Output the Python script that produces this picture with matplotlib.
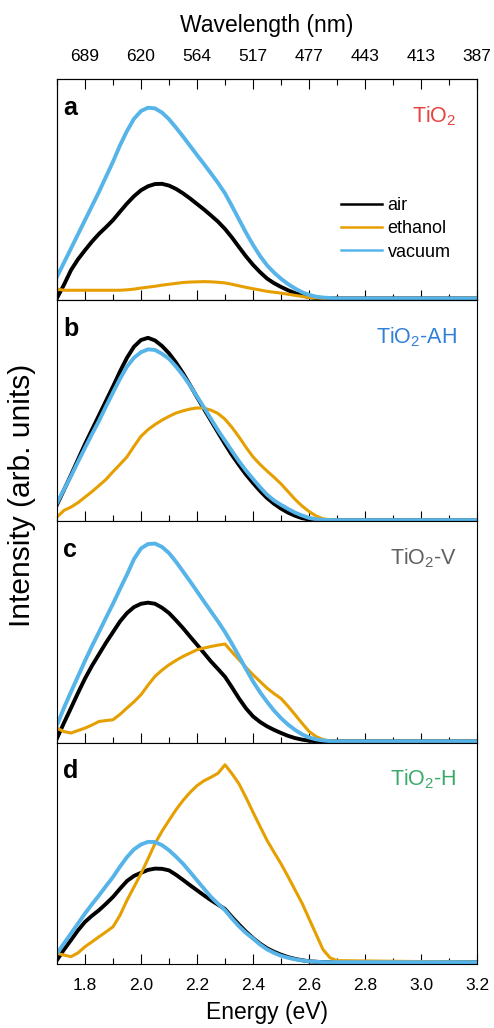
import matplotlib
matplotlib.use("Agg")
import matplotlib.pyplot as plt
from matplotlib.ticker import MultipleLocator

plt.rcParams["font.family"] = ["Liberation Sans", "DejaVu Sans"]
plt.rcParams["mathtext.default"] = "regular"

energy = [1.700, 1.725, 1.750, 1.775, 1.800, 1.825, 1.850, 1.875, 1.900, 1.925,
          1.950, 1.975, 2.000, 2.025, 2.050, 2.075, 2.100, 2.125, 2.150, 2.175,
          2.200, 2.225, 2.250, 2.275, 2.300, 2.325, 2.350, 2.375, 2.400, 2.425,
          2.450, 2.475, 2.500, 2.525, 2.550, 2.575, 2.600, 2.625, 2.650, 2.675,
          2.700, 3.200]

# panel a: TiO2
air_a = [.010, .070, .136, .185, .226, .265, .300, .330, .362, .400,
         .437, .470, .497, .515, .525, .526, .518, .503, .483, .460,
         .435, .410, .383, .355, .322, .283, .240, .198, .160, .127,
         .098, .077, .060, .045, .032, .022, .014, .010, .008, .008,
         .008, .008]
ethanol_a = [.050, .045, .045, .045, .045, .045, .045, .045, .045, .045,
             .047, .050, .055, .059, .063, .068, .072, .076, .080, .082,
             .083, .084, .083, .081, .078, .072, .065, .058, .052, .046,
             .040, .036, .032, .027, .022, .017, .012, .010, .008, .008,
             .008, .008]
vacuum_a = [.106, .170, .234, .298, .362, .426, .490, .558, .626, .700,
            .765, .820, .855, .870, .867, .848, .818, .780, .740, .698,
            .656, .615, .573, .530, .483, .425, .365, .305, .250, .200,
            .158, .125, .097, .073, .053, .036, .024, .016, .012, .010,
            .008, .008]

# panel b: TiO2-AH
air_b = [.076, .143, .210, .280, .350, .415, .480, .545, .610, .678,
         .740, .790, .820, .830, .818, .793, .760, .718, .670, .617,
         .562, .508, .455, .402, .350, .300, .255, .212, .174, .138,
         .106, .080, .058, .040, .026, .015, .009, .006, .006, .006,
         .006, .006]
ethanol_b = [.020, .050, .065, .085, .110, .135, .162, .190, .225, .258,
             .292, .340, .385, .415, .438, .458, .475, .490, .500, .508,
             .513, .512, .503, .488, .462, .425, .382, .335, .292, .258,
             .228, .200, .170, .135, .100, .070, .045, .025, .012, .008,
             .006, .006]
vacuum_b = [.083, .145, .205, .270, .333, .395, .455, .520, .583, .645,
            .700, .740, .765, .778, .775, .758, .735, .700, .660, .615,
            .565, .515, .463, .412, .365, .318, .272, .230, .192, .155,
            .121, .095, .075, .057, .040, .027, .016, .010, .007, .006,
            .006, .006]

# panel c: TiO2-V
air_c = [.020, .090, .157, .225, .290, .348, .400, .452, .500, .548,
         .586, .613, .628, .633, .628, .610, .586, .553, .518, .480,
         .443, .405, .367, .333, .298, .250, .200, .155, .119, .094,
         .074, .058, .044, .031, .021, .014, .009, .007, .006, .006,
         .006, .006]
ethanol_c = [.066, .050, .044, .055, .066, .080, .096, .100, .104, .128,
             .157, .185, .217, .260, .300, .328, .352, .372, .390, .405,
             .420, .428, .435, .441, .446, .410, .375, .340, .307, .277,
             .247, .222, .200, .165, .127, .088, .051, .028, .014, .008,
             .006, .006]
vacuum_c = [.080, .158, .230, .300, .370, .437, .500, .565, .628, .695,
            .760, .830, .878, .898, .900, .885, .857, .818, .774, .730,
            .684, .638, .593, .548, .500, .447, .390, .333, .277, .228,
            .185, .145, .111, .082, .058, .038, .024, .015, .010, .007,
            .006, .006]

# panel d: TiO2-H
air_d = [.018, .065, .108, .152, .190, .218, .243, .272, .303, .340,
         .375, .398, .412, .425, .431, .430, .423, .403, .380, .356,
         .333, .310, .288, .268, .248, .212, .178, .146, .117, .092,
         .071, .055, .042, .031, .023, .017, .012, .010, .008, .008,
         .008, .008]
ethanol_d = [.048, .040, .033, .050, .078, .100, .123, .145, .168, .220,
             .288, .348, .408, .475, .544, .600, .649, .697, .739, .775,
             .806, .828, .844, .862, .900, .860, .814, .752, .686, .622,
             .559, .505, .453, .395, .335, .275, .205, .135, .065, .028,
             .015, .008]
vacuum_d = [.048, .093, .138, .183, .228, .270, .310, .352, .393, .440,
            .483, .518, .540, .552, .551, .537, .514, .485, .453, .416,
            .378, .340, .303, .272, .243, .205, .170, .140, .115, .088,
            .066, .050, .037, .028, .021, .016, .012, .010, .008, .008,
            .008, .008]

panel_letters = ["a", "b", "c", "d"]
sample_names = ["TiO$_2$", "TiO$_2$-AH", "TiO$_2$-V", "TiO$_2$-H"]
sample_colors = ["#E8423F", "#2F80D8", "#606060", "#3AAA6A"]
series_names = ["air", "ethanol", "vacuum"]
series_colors = ["black", "#E69F00", "#56B4E9"]

energy_ticks = [1.8, 2.0, 2.2, 2.4, 2.6, 2.8, 3.0, 3.2]
wavelength_labels = ["689", "620", "564", "517", "477", "443", "413", "387"]

panels = [
    (air_a, ethanol_a, vacuum_a),
    (air_b, ethanol_b, vacuum_b),
    (air_c, ethanol_c, vacuum_c),
    (air_d, ethanol_d, vacuum_d),
]

fig, axes = plt.subplots(4, 1, figsize=(4.94, 10.28), dpi=100, sharex=True)
fig.subplots_adjust(left=0.1154, right=0.9656, top=0.9232, bottom=0.0623, hspace=0)

for i, ax in enumerate(axes):
    for ys, name, color in zip(panels[i], series_names, series_colors):
        lw = 2.2 if name == "ethanol" else 2.8
        ax.plot(energy, ys, color=color, lw=lw, label=name, solid_joinstyle="round")
    ax.set_xlim(1.7, 3.2)
    ax.set_ylim(0, 1)
    ax.set_yticks([])
    ax.xaxis.set_major_locator(MultipleLocator(0.2))
    ax.xaxis.set_minor_locator(MultipleLocator(0.1))
    ax.tick_params(axis="x", which="major", direction="in", length=7, width=0.8,
                   labelsize=12.5, pad=10)
    ax.tick_params(axis="x", which="minor", direction="in", length=4, width=0.8)
    for sp in ax.spines.values():
        sp.set_linewidth(0.8)
    ax.text(0.015, 0.925, panel_letters[i], transform=ax.transAxes, fontsize=18,
            fontweight="bold", va="top", ha="left")
    ax.text(0.952, 0.805, sample_names[i], transform=ax.transAxes, fontsize=15.5,
            color=sample_colors[i], ha="right", va="baseline")

leg = axes[0].legend(loc="upper left", bbox_to_anchor=(0.637, 0.54), frameon=False,
                     fontsize=13, handlelength=2.3, handletextpad=0.3, labelspacing=0.35)
for line in leg.get_lines():
    line.set_linewidth(1.8)

axes[-1].set_xticks(energy_ticks)
axes[-1].set_xticklabels([f"{e:.1f}" for e in energy_ticks])
axes[-1].set_xlabel("Energy (eV)", fontsize=16.5, labelpad=6)

top = axes[0].twiny()
top.set_xlim(1.7, 3.2)
top.set_xticks(energy_ticks)
top.set_xticklabels(wavelength_labels)
top.xaxis.set_minor_locator(MultipleLocator(0.1))
top.tick_params(axis="x", which="major", direction="in", length=7, width=0.8,
                labelsize=12.5, pad=11)
top.tick_params(axis="x", which="minor", direction="in", length=4, width=0.8)
top.set_xlabel("Wavelength (nm)", fontsize=16.5, labelpad=12)

fig.text(0.045, 0.518, "Intensity (arb. units)", rotation=90,
         fontsize=21.5, ha="center", va="center")

fig.savefig("out.png")
